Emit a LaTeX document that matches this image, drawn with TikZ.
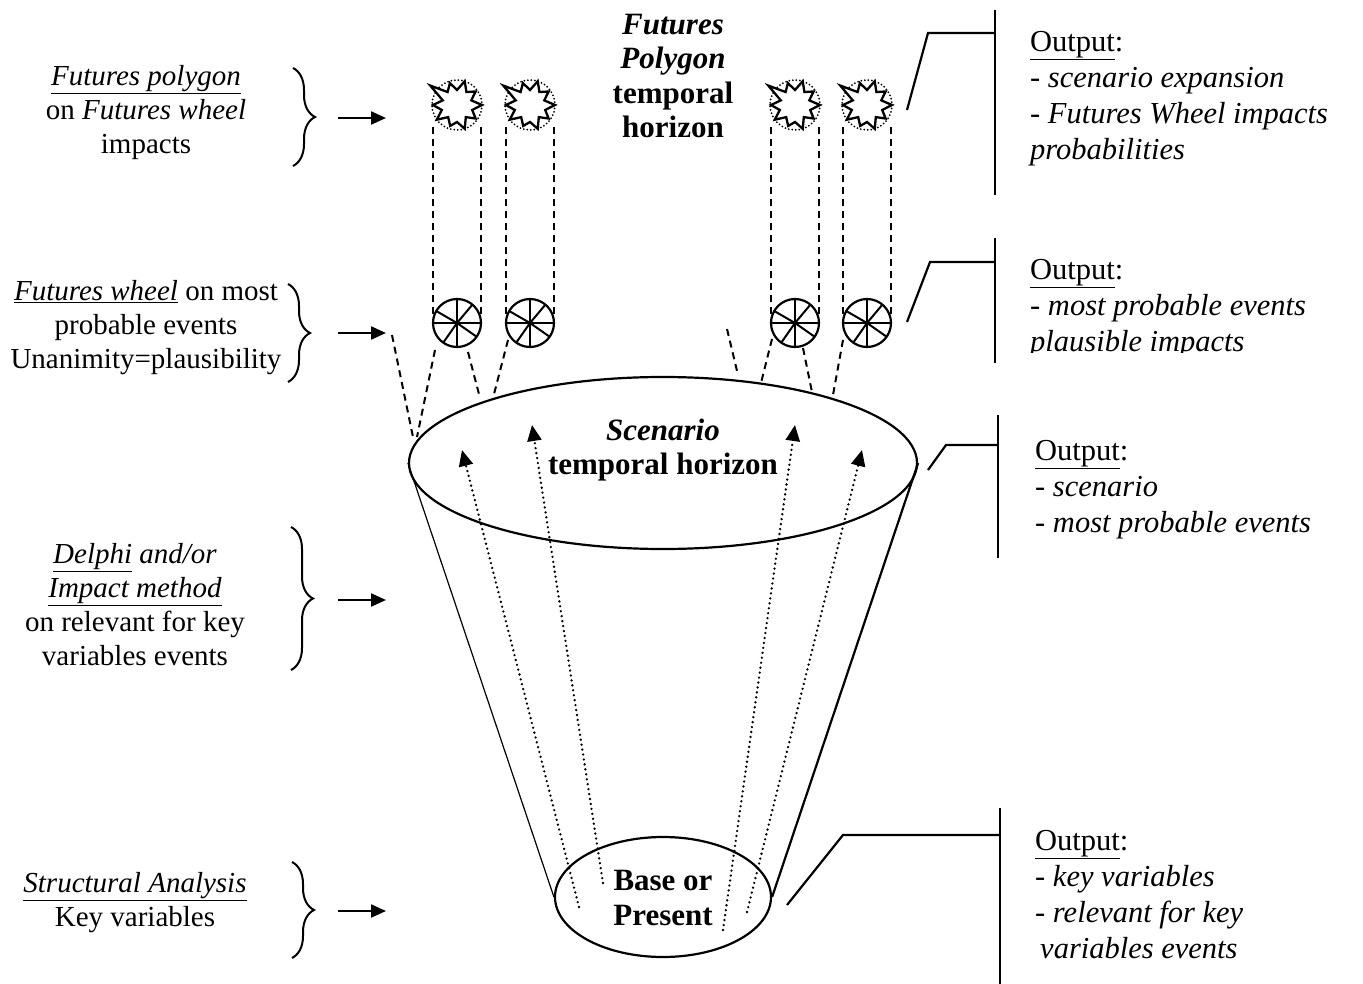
\documentclass[tikz,border=0pt]{standalone}
\usepackage{fontspec}
\setmainfont{Liberation Serif}
\usetikzlibrary{arrows.meta,decorations.pathreplacing,shapes.geometric}
\begin{document}
\begin{tikzpicture}[x=1pt,y=-1pt,
  lefttxt/.style={align=center, inner sep=0pt, font=\fontsize{29}{34}\selectfont},
  righttxt/.style={align=left, anchor=north west, inner sep=0pt, font=\fontsize{30.5}{36}\selectfont},
  midtxt/.style={align=center, inner sep=0pt, font=\fontsize{31}{34.5}\selectfont\bfseries},
  lead/.style={line width=2.2pt},
  inarrow/.style={-{Triangle[length=15pt,width=13pt]}, line width=2.2pt},
  bracestyle/.style={decorate, decoration={brace, amplitude=22pt, aspect=0.5}, line width=2pt},
  dashline/.style={line width=2pt, dash pattern=on 7pt off 5pt},
  dotarrow/.style={line width=2.6pt, dash pattern=on 0pt off 5pt, line cap=round, -{Triangle[length=16pt,width=14pt]}},
  burst/.pic={
    \draw[line width=2pt, dash pattern=on 0pt off 3.5pt, line cap=round] (0,0) circle[radius=25];
    \draw[line width=2.3pt, line join=miter, miter limit=4, fill=white] (0:25)
      \foreach \r [count=\i] in {16,23,15,25,17,22,15,25,16,24,15,33,16,23,15,25,16,23,15} {-- ({\i*18}:\r)} -- cycle;
  },
  wheel/.pic={
    \draw[line width=2.2pt] (0,0) circle[radius=24];
    \foreach \a in {0,-90,180,90,-150,35,-50,125} \draw[line width=2pt] (0,0) -- (\a:24);
  }
]
\useasboundingbox (0,0) rectangle (1363,984);

% ellipses
\node[draw, ellipse, line width=2.2pt, minimum width=508pt, minimum height=172pt] (scen) at (663,463) {};
\node[midtxt] (scentxt) at (663,450) {\textit{Scenario}\\temporal horizon};
\node[draw, ellipse, line width=2.2pt, minimum width=216pt, minimum height=120pt] (base) at (663,897) {};
\node[midtxt] (basetxt) at (663,898) {Base or\\Present};

% cone
\draw[line width=1.2pt] (scen.west) -- (base.west);
\draw[line width=2.2pt] (scen.east) -- (base.east);

% dotted arrows
\coordinate (d1s) at (579,907); \coordinate (d1e) at (462,450);
\coordinate (d2s) at (603,883); \coordinate (d2e) at (532,425);
\coordinate (d3s) at (723,930); \coordinate (d3e) at (795,425);
\coordinate (d4s) at (747,912); \coordinate (d4e) at (862,450);
\draw[dotarrow] (d1s) -- (d1e);
\draw[dotarrow] (d2s) -- (d2e);
\draw[dotarrow] (d3s) -- (d3e);
\draw[dotarrow] (d4s) -- (d4e);

% bursts and wheels
\foreach \n/\x in {1/457,2/530,3/795,4/867}{
  \coordinate (b\n) at (\x,105);
  \coordinate (w\n) at (\x,323);
  \draw[dashline] ([xshift=-24pt]b\n) ++(0,22) -- ([xshift=-24pt]w\n);
  \draw[dashline] ([xshift=24pt]b\n) ++(0,22) -- ([xshift=24pt]w\n);
  \pic at (b\n) {burst};
  \pic at (w\n) {wheel};
}

% dashed lines from wheels to scenario ellipse
\foreach \sx/\sy/\ex/\ey in {392/335/413/437, 435/350/417/437, 468/352/480/398, 508/340/493/398,
                              727/329/738/375, 772/339/761/383, 803/348/812/392, 843/340/833/395}{
  \draw[dashline] (\sx,\sy) -- (\ex,\ey);
}

% center title
\node[midtxt] (title) at (673,76) {\textit{Futures}\\\textit{Polygon}\\temporal\\horizon};

% left texts
\node[lefttxt] (l1) at (146,113) {\underline{\textit{Futures polygon}}\\on \textit{Futures wheel}\\impacts};
\node[lefttxt] (l2) at (146,328) {\underline{\textit{Futures wheel}} on most\\probable events\\Unanimity=plausibility};
\node[lefttxt] (l3) at (135,605) {\underline{\textit{Delphi}} \textit{and/or}\\\underline{\textit{Impact method}}\\on relevant for key\\variables events};
\node[lefttxt] (l4) at (135,903) {\underline{\textit{Structural Analysis}}\\Key variables};

% braces
\coordinate (br1a) at (293,68);  \coordinate (br1b) at (293,166);
\coordinate (br2a) at (288,284); \coordinate (br2b) at (288,382);
\coordinate (br3a) at (291,527); \coordinate (br3b) at (291,670);
\coordinate (br4a) at (292,862); \coordinate (br4b) at (292,958);
\draw[bracestyle] (br1a) -- (br1b);
\draw[bracestyle] (br2a) -- (br2b);
\draw[bracestyle] (br3a) -- (br3b);
\draw[bracestyle] (br4a) -- (br4b);

% input arrows
\foreach \n/\y in {1/118,2/333,3/600,4/911}{
  \coordinate (ia\n) at (338,\y); \coordinate (ib\n) at (386,\y);
  \draw[inarrow] (ia\n) -- (ib\n);
}

% right leaders
\coordinate (r1a) at (907,110); \coordinate (r1b) at (928,33);  \coordinate (r1c) at (995,33);
\coordinate (r1t) at (995,10);  \coordinate (r1u) at (995,195);
\draw[lead] (r1a) -- (r1b) -- (r1c); \draw[lead] (r1t) -- (r1u);
\coordinate (r2a) at (907,322); \coordinate (r2b) at (930,262); \coordinate (r2c) at (995,262);
\coordinate (r2t) at (995,238); \coordinate (r2u) at (995,363);
\draw[lead] (r2a) -- (r2b) -- (r2c); \draw[lead] (r2t) -- (r2u);
\coordinate (r3a) at (928,470); \coordinate (r3b) at (946,445); \coordinate (r3c) at (998,445);
\coordinate (r3t) at (998,415); \coordinate (r3u) at (998,558);
\draw[lead] (r3a) -- (r3b) -- (r3c); \draw[lead] (r3t) -- (r3u);
\coordinate (r4a) at (787,905); \coordinate (r4b) at (843,835); \coordinate (r4c) at (1000,835);
\coordinate (r4t) at (1000,808); \coordinate (r4u) at (1000,984);
\draw[lead] (r4a) -- (r4b) -- (r4c); \draw[lead] (r4t) -- (r4u);

% right texts
\node[righttxt] (o1) at (1030,31) {\underline{Output}:\\\textit{- scenario expansion}\\\textit{- Futures Wheel impacts}\\\textit{probabilities}};
\begin{scope}
  \clip (1005,240) rectangle (1363,353);
  \node[righttxt] (o2) at (1030,259) {\underline{Output}:\\\textit{- most probable events}\\\textit{plausible impacts}};
\end{scope}
\node[righttxt] (o3) at (1035,440) {\underline{Output}:\\\textit{- scenario}\\\textit{- most probable events}};
\node[righttxt] (o4) at (1035,830) {\underline{Output}:\\\textit{- key variables}\\\textit{- relevant for key}\\\hspace*{5pt}\textit{variables events}};
\end{tikzpicture}
\end{document}
